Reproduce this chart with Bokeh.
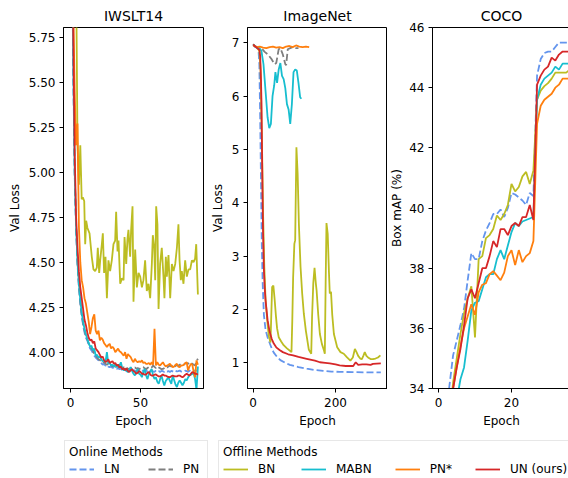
from bokeh.plotting import figure
from bokeh.models import FixedTicker, PrintfTickFormatter, Legend, LegendItem, Range1d, Title
from bokeh.layouts import row, column
from bokeh.embed import file_html
from bokeh.resources import INLINE

FONT = "DejaVu Sans"
NAN = float("nan")

# ---------------- IWSLT14 (epochs 1..N) ----------------
iw_ln = [6.3, 5.55, 4.98, 4.68, 4.49, 4.36, 4.27, 4.20, 4.15, 4.11,
         4.08, 4.065, 4.04, 4.02, 4.01, 3.995, 3.98, 3.97, 3.962, 3.955,
         3.95, 3.94, 3.93, 3.935, 3.925, 3.93, 3.92, 3.917, 3.92, 3.912,
         3.915, 3.91, 3.907, 3.912, 3.905, 3.908, 3.90, 3.905, 3.90, 3.898,
         3.903, 3.898, 3.90, 3.895, 3.9, 3.897, 3.893, 3.9, 3.896, 3.894,
         3.9, 3.895, 3.89, 3.898, 3.893, 3.896, 3.89, 3.897, 3.893, 3.89,
         3.897, 3.892, 3.895, 3.89, 3.896, 3.894, 3.89, 3.897, 3.892, 3.895,
         3.89, 3.896, 3.893, 3.89, 3.897, 3.893, 3.895, 3.898, 3.892, 3.896,
         3.893, 3.897, 3.895, 3.89, 3.898, 3.894, 3.896, 3.9, 3.895, 3.898,
         3.9]
iw_pn = [6.35, 5.6, 5.0, 4.7, 4.5, 4.37, 4.28, 4.21, 4.16, 4.12,
         4.09, 4.07, 4.05, 4.03, 4.02, 4.01, 3.99, 3.98, 3.97, 3.96,
         3.955, 3.95, 3.94, 3.945, 3.935, 3.93, 3.935, 3.926, 3.93, 3.92,
         3.925, 3.918, 3.922, 3.915, 3.917, 3.92, 3.912, 3.916, 3.91, 3.914,
         3.908, 3.907, 3.912, 3.905, 3.91, 3.915, 3.908, 3.912, 3.905, 3.91,
         3.915, 3.917, 3.91, 3.905, 3.912, 3.918, 3.92, 3.915, 3.926, 3.918,
         3.912, 3.92, 3.915, 3.91, 3.905, 3.907, 3.912, 3.918, 3.915, 3.92,
         3.926, 3.92, 3.926, 3.918, 3.922, 3.93, 3.925, 3.93, 3.935, 3.935,
         3.93, 3.938, 3.94, 3.935, 3.944, 3.94, 3.935, 3.93, 3.926, 3.95,
         3.963]
iw_mabn = [6.4, 5.6, 5.0, 4.7, 4.5, 4.38, 4.29, 4.22, 4.17, 4.13,
           4.10, 4.075, 4.05, 4.03, 4.035, 4.01, 4.02, 3.98, 3.985, 3.97,
           3.975, 3.96, 3.95, 3.955, 3.945, 4.00, 3.935, 3.94, 3.926, 3.93,
           3.92, 3.935, 3.915, 3.93, 3.925, 3.944, 3.91, 3.898, 3.91, 3.895,
           3.889, 3.90, 3.917, 3.895, 3.88, 3.87, 3.89, 3.907, 3.88, 3.875,
           3.861, 3.89, 3.907, 3.87, 3.85, 3.88, 3.895, 3.907, 3.87, 3.852,
           3.86, 3.835, 3.824, 3.85, 3.87, 3.84, 3.815, 3.84, 3.85, 3.861,
           3.84, 3.824, 3.87, 3.845, 3.82, 3.806, 3.83, 3.843, 3.83, 3.815,
           3.83, 3.85, 3.843, 3.86, 3.87, 3.875, 3.88, 3.88, 3.85, 3.79,
           3.92]
iw_pns = [6.8, 5.9, 5.45, 5.15, 5.27, 4.7, 4.5, 4.40, 4.36, 4.30,
          4.27, 4.22, 4.17, 4.10, 4.14, 4.19, 4.21, 4.12, 4.10, 4.12,
          4.065, 4.08, 4.07, 4.05, 4.04, 4.028, 4.04, 4.046, 4.02, 4.03,
          4.02, 4.00, 4.01, 4.02, 4.005, 4.00, 3.99, 3.98, 4.00, 3.963,
          3.99, 3.98, 3.972, 3.955, 3.944, 3.963, 3.95, 3.944, 3.95, 3.945,
          3.954, 3.94, 3.944, 3.935, 3.935, 3.94, 3.93, 3.944, 3.93, 4.13,
          3.926, 3.944, 3.93, 3.926, 3.935, 3.944, 3.93, 3.92, 3.926, 3.93,
          3.935, 3.925, 3.917, 3.92, 3.93, 3.935, 3.92, 3.917, 3.925, 3.926,
          3.93, 3.94, 3.944, 3.898, 3.92, 3.935, 3.93, 3.89, 3.86, 3.954,
          3.93]
iw_un = [6.6, 5.75, 5.1, 4.75, 4.58, 4.45, 4.36, 4.30, 4.24, 4.18,
         4.15, 4.11, 4.08, 4.065, 4.07, 4.05, 4.06, 4.02, 4.01, 4.00,
         3.985, 3.97, 3.975, 3.955, 3.945, 3.95, 3.96, 3.94, 3.945, 3.95,
         3.935, 3.94, 3.925, 3.93, 3.915, 3.92, 3.905, 3.91, 3.90, 3.91,
         3.895, 3.89, 3.90, 3.905, 3.895, 3.89, 3.88, 3.885, 3.895, 3.89,
         3.88, 3.88, 3.875, 3.877, 3.885, 3.89, 3.875, 3.87, 3.87, 3.875,
         3.876, 3.87, 3.865, 3.865, 3.87, 3.876, 3.87, 3.87, 3.865, 3.862,
         3.861, 3.866, 3.87, 3.866, 3.865, 3.865, 3.87, 3.87, 3.865, 3.86,
         3.866, 3.875, 3.88, 3.875, 3.87, 3.88, 3.89, 3.885, 3.88, 3.88,
         3.875]
iw_bn_ep = [4, 5, 6, 7, 8, 8.8, 9.8, 10.5, 11.2, 12.1, 13.6, 15.2, 16.4, 17.6, 18.8,
            19.5, 20.5, 21.2, 22.4, 23.1, 24.0, 25.0, 26.0, 27.1, 28.3, 29.5, 30.7,
            31.9, 32.6, 33.6, 34.3, 35.5, 36.7, 37.9, 38.6, 39.8, 40.7, 41.4, 42.6,
            43.3, 44.3, 45.0, 46.2, 47.4, 48.6, 49.8, 51.0, 52.1, 53.3, 54.5, 55.7,
            56.9, 58.1, 58.8, 59.8, 60.5, 61.2, 62.1, 62.9, 64.0, 65.2, 66.4, 67.1,
            68.1, 68.8, 70.0, 71.2, 72.4, 73.6, 74.8, 76.0, 77.1, 77.9, 78.8, 79.5,
            80.7, 81.9, 83.1, 84.3, 85.5, 86.7, 87.9, 89.0, 89.8, 91.0]
iw_bn = [6.1, 5.16, 4.93, 5.15, 4.85, 4.86, 4.84, 4.60, 4.73, 4.69, 4.66, 4.53, 4.46, 4.45, 4.47,
         4.58, 4.44, 4.51, 4.60, 4.66, 4.44, 4.53, 4.30, 4.51, 4.45, 4.51, 4.60,
         4.62, 4.78, 4.56, 4.62, 4.38, 4.41, 4.40, 4.64, 4.49, 4.63, 4.68, 4.53,
         4.68, 4.81, 4.28, 4.57, 4.36, 4.44, 4.42, 4.36, 4.40, 4.51, 4.34, 4.38,
         4.30, 4.49, 4.65, 4.58, 4.40, 4.81, 4.71, 4.24, 4.49, 4.58, 4.42, 4.30,
         4.53, 4.42, 4.54, 4.30, 4.49, 4.45, 4.49, 4.58, 4.71, 4.51, 4.40, 4.45,
         4.38, 4.51, 4.42, 4.46, 4.46, 4.51, 4.50, 4.52, 4.60, 4.32]

# ---------------- ImageNet ----------------
in_ln_ep = [0, 5, 10, 13, 15, 17, 19, 21, 23, 26, 30, 35, 39, 45, 50, 58, 66, 78, 89, 110,
            130, 150, 170, 190, 210, 240, 270, 310]
in_ln = [6.97, 6.92, 6.9, 6.85, 6.6, 5.6, 4.4, 3.2, 2.5, 1.9, 1.62, 1.48, 1.39, 1.27, 1.19,
         1.11, 1.05, 1.0, 0.96, 0.92, 0.89, 0.865, 0.85, 0.835, 0.83, 0.825, 0.822, 0.82]
in_pn_ep = [0, 10, 20, 28, 36, 44, 52, 56, 62, 66, 72, 78, 80, 84, 90, 96, 104, 110]
in_pn = [6.95, 6.92, 6.9, 6.83, 6.78, 6.7, 6.6, 6.62, 6.88, 6.9, 6.78, 6.6, 6.58, 6.88, 6.9,
         6.92, 6.9, 6.9]
in_bn_ep = [0, 10, 15, 18, 21, 24, 27, 30, 34, 38, 42, 44, 46, 49, 52, 55, 58, 62, 68, 74,
            82, 90, 93, 95, 97, 100, 102, 105, 108, 111, 115, 119, 123, 128, 135, 141, 143,
            146, 149, 152, 154, 158, 162, 167, 172, 174, 176, 178, 181, 184, 186, 189, 192,
            196, 204, 212, 220, 228, 236, 242, 247, 251, 255, 260, 264, 268, 271, 275, 279,
            285, 291, 297, 303, 309]
in_bn = [6.97, 6.9, 6.85, 6.5, 5.3, 3.8, 2.8, 2.2, 1.8, 1.5, 1.38, 1.9, 2.42, 2.45, 2.2, 1.9,
         1.65, 1.48, 1.4, 1.33, 1.27, 1.22, 1.2, 1.8, 2.6, 3.23, 3.3, 5.04, 4.54, 3.6, 2.8,
         2.3, 1.92, 1.6, 1.25, 1.17, 1.86, 2.5, 2.78, 2.5, 2.36, 1.9, 1.54, 1.35, 1.23, 1.17,
         2.5, 3.62, 3.42, 2.7, 2.3, 2.33, 1.9, 1.54, 1.29, 1.2, 1.17, 1.1, 1.04, 1.1, 1.26,
         1.2, 1.13, 1.08, 1.07, 1.14, 1.2, 1.13, 1.1, 1.07, 1.07, 1.08, 1.1, 1.14]
in_mabn_ep = [0, 5, 10, 15, 20, 25, 30, 35, 39, 43, 47, 51, 54, 58, 62, 66, 70, 74, 78, 82,
              86, 90, 94, 98, 102, 106, 110, 114, 117]
in_mabn = [6.97, 6.93, 6.9, 6.9, 6.85, 6.6, 6.1, 5.6, 5.4, 5.48, 6.0, 6.2, 6.45, 6.25, 6.5,
           6.62, 6.38, 6.32, 6.15, 5.85, 5.75, 5.48, 5.85, 6.45, 6.5, 6.48, 6.25, 5.98, 5.95]
in_pns_ep = [0, 8, 16, 24, 32, 40, 48, 56, 64, 72, 80, 88, 96, 104, 112, 120, 128, 136]
in_pns = [6.95, 6.92, 6.93, 6.91, 6.9, 6.92, 6.93, 6.91, 6.92, 6.9, 6.93, 6.94, 6.92, 6.95,
          6.93, 6.92, 6.93, 6.92]
in_un_ep = [0, 5, 10, 15, 17, 19, 20, 22, 24, 26, 28, 30, 35, 40, 45, 50, 56, 64, 72, 85,
            97, 110, 130, 150, 162, 175, 186, 200, 210, 225, 243, 249, 255, 265, 275, 285,
            291, 300, 310]
in_un = [6.97, 6.93, 6.9, 6.87, 6.75, 6.3, 5.92, 4.6, 3.42, 2.75, 2.4, 2.17, 1.8, 1.58, 1.45,
         1.36, 1.29, 1.24, 1.2, 1.16, 1.14, 1.11, 1.075, 1.04, 1.01, 1.0, 0.99, 0.97, 0.95,
         0.94, 0.94, 1.01, 0.96, 0.97, 0.97, 0.96, 0.98, 0.985, 0.99]

# ---------------- COCO ----------------
coco_ln_ep = list(range(2, 37))
coco_ln = [33.0, 34.1, 35.1, 35.6, 36.1, 36.65, 37.6, 38.5, 38.3, 38.3, 38.9, 39.25, 39.5,
           39.8, 39.8, 39.95, 39.7, 40.0, 40.5, 40.45, 40.35, 40.25, 40.1, 40.5, 40.4, 44.4,
           44.95, 45.15, 45.2, 45.2, 45.35, 45.5, 45.5, 45.5, 45.5]
coco_ep = list(range(3, 37))
coco_bn = [33.0, 34.2, 35.0, 35.8, 36.5, 37.0, 37.4, 35.7, 38.3, 38.4, 39.0, 39.1, 39.3,
           39.75, 39.6, 39.8, 40.1, 40.8, 40.55, 40.7, 41.05, 41.2, 40.8, 41.25, 43.6, 43.9,
           44.05, 44.15, 44.3, 44.5, 44.5, 44.5, 44.5, 44.6]
coco_mabn = [32.4, 33.0, 33.6, 34.3, 34.7, 35.6, 36.6, 36.85, 36.9, 37.3, 37.7, 37.8, 37.8,
             38.3, 38.6, 38.3, 38.75, 39.2, 39.5, 39.4, 39.55, 39.6, 39.65, 39.7, 43.6, 44.1,
             44.3, 44.4, 44.5, 44.7, 44.6, 44.8, 44.8, 44.8]
coco_pns = [33.2, 34.0, 34.7, 35.4, 36.0, 36.4, 36.8, 36.45, 37.2, 37.45, 37.5, 37.8, 37.9,
            37.75, 37.6, 37.85, 38.4, 38.6, 38.1, 38.6, 38.2, 38.4, 38.5, 38.9, 42.8, 43.4,
            43.6, 43.7, 43.8, 44.0, 44.1, 44.3, 44.3, 44.3]
coco_un = [33.2, 34.0, 34.7, 35.3, 36.1, 37.0, 37.3, 37.0, 37.5, 38.0, 38.0, 38.4, 38.9, 38.7,
           39.3, 39.3, 39.1, 39.4, 39.5, 39.4, 39.7, 39.7, 40.1, 39.6, 44.1, 44.4, 44.6, 44.7,
           45.0, 44.9, 45.1, 45.2, 45.2, 45.2]

titles = ["IWSLT14", "ImageNet", "COCO"]
names = ["LN", "PN", "BN", "MABN", "PN*", "UN (ours)"]
colors = {"LN": "#6495ed", "PN": "#7f7f7f", "BN": "#bcbd22", "MABN": "#17becf",
          "PN*": "#ff7f0e", "UN (ours)": "#d62728"}
dashed = {"LN", "PN"}
LW = 1.8
DASH = "7 3"


def style_line(name):
    kw = dict(line_color=colors[name], line_width=LW)
    if name in dashed:
        kw["line_dash"] = DASH
    return kw


def make_fig(title, xr, yr, left, right, fw, ylabel, xticks, yticks, ylab_standoff, yfmt=None):
    t = Title(text=title, align="center", text_font=FONT, text_font_size="14px",
              text_font_style="normal", text_color="black", standoff=8)
    p = figure(frame_width=fw, frame_height=361, x_range=Range1d(*xr), y_range=Range1d(*yr),
               output_backend="svg", toolbar_location=None, min_border_left=left,
               min_border_right=right, min_border_top=27, min_border_bottom=44, title=t)
    p.xaxis.axis_label = "Epoch"
    p.yaxis.axis_label = ylabel
    p.xaxis.ticker = FixedTicker(ticks=xticks)
    p.yaxis.ticker = FixedTicker(ticks=yticks)
    if yfmt:
        p.yaxis.formatter = PrintfTickFormatter(format=yfmt)
    for ax in (p.xaxis[0], p.yaxis[0]):
        ax.major_label_text_font = FONT
        ax.major_label_text_font_size = "12px"
        ax.major_label_text_color = "black"
        ax.axis_label_text_font = FONT
        ax.axis_label_text_font_size = "12px"
        ax.axis_label_text_font_style = "normal"
        ax.axis_label_text_color = "black"
        ax.major_tick_out = 4
        ax.major_tick_in = 0
        ax.minor_tick_out = 0
        ax.minor_tick_in = 0
        ax.axis_line_color = "black"
        ax.major_tick_line_color = "black"
    p.xaxis[0].major_label_standoff = 5
    p.xaxis[0].axis_label_standoff = 4
    p.yaxis[0].major_label_standoff = 4
    p.yaxis[0].axis_label_standoff = ylab_standoff
    p.grid.visible = False
    p.outline_line_color = "black"
    p.outline_line_width = 1
    p.outline_line_alpha = 1.0
    return p


# IWSLT14
p1 = make_fig(titles[0], (-5, 95), (3.798, 5.804), 63, 1, 140, "Val Loss",
              [0, 50], [4.0, 4.25, 4.5, 4.75, 5.0, 5.25, 5.5, 5.75], 4, "%.2f")
iw_series = {"LN": iw_ln, "PN": iw_pn, "MABN": iw_mabn, "PN*": iw_pns, "UN (ours)": iw_un}
for nm in names:
    if nm == "BN":
        p1.line(iw_bn_ep, iw_bn, **style_line(nm))
    else:
        vals = iw_series[nm]
        p1.line(list(range(1, len(vals) + 1)), vals, **style_line(nm))

# ImageNet
p2 = make_fig(titles[1], (-13.8, 326.2), (0.518, 7.287), 43, 0, 140, "Val Loss",
              [0, 200], [1, 2, 3, 4, 5, 6, 7], 4)
in_series = {"LN": (in_ln_ep, in_ln), "PN": (in_pn_ep, in_pn), "BN": (in_bn_ep, in_bn),
             "MABN": (in_mabn_ep, in_mabn), "PN*": (in_pns_ep, in_pns),
             "UN (ours)": (in_un_ep, in_un)}
for nm in names:
    xs, ys = in_series[nm]
    p2.line(xs, ys, **style_line(nm))

# COCO
p3 = make_fig(titles[2], (-1.64, 36.16), (34, 46), 43, 0, 138, "Box mAP (%)",
              [0, 20], [34, 36, 38, 40, 42, 44, 46], 2)
coco_series = {"LN": (coco_ln_ep, coco_ln), "BN": (coco_ep, coco_bn),
               "MABN": (coco_ep, coco_mabn), "PN*": (coco_ep, coco_pns),
               "UN (ours)": (coco_ep, coco_un)}
for nm in names:
    if nm in coco_series:
        xs, ys = coco_series[nm]
        p3.line(xs, ys, **style_line(nm))

# Legend strip
leg = figure(width=568, height=46, output_backend="svg", toolbar_location=None,
             x_range=Range1d(0, 1), y_range=Range1d(0, 1),
             x_axis_location=None, y_axis_location=None, min_border=0)
leg.grid.visible = False
leg.outline_line_color = None
rend = {nm: leg.line([NAN], [NAN], **style_line(nm)) for nm in names}


def make_legend(title, items, x, spacing):
    lg = Legend(items=[LegendItem(label=nm, renderers=[rend[nm]]) for nm in items],
                orientation="horizontal", title=title, location=(x, -4))
    lg.title_text_font = FONT
    lg.title_text_font_size = "12px"
    lg.title_text_font_style = "normal"
    lg.title_text_color = "black"
    lg.title_standoff = 2
    lg.label_text_font = FONT
    lg.label_text_font_size = "12px"
    lg.label_text_color = "black"
    lg.glyph_width = 25
    lg.glyph_height = 16
    lg.label_height = 16
    lg.label_standoff = 10
    lg.spacing = spacing
    lg.padding = 4
    lg.margin = 0
    lg.border_line_color = "#d0d0d0"
    lg.border_line_width = 1
    lg.background_fill_alpha = 0.8
    return lg


leg.add_layout(make_legend("Online Methods", ["LN", "PN"], 64, 24))
leg.add_layout(make_legend("Offline Methods", ["BN", "MABN", "PN*", "UN (ours)"], 218, 23))

layout = column(row(p1, p2, p3), leg)
open("out.html", "w").write(file_html(layout, INLINE))
